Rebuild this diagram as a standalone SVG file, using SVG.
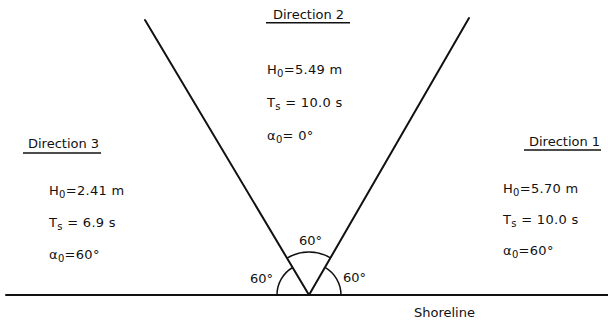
<svg xmlns="http://www.w3.org/2000/svg" width="608" height="322" viewBox="0 0 608 322">
<style>
  text { font-family: "DejaVu Sans", "Liberation Sans", sans-serif; font-size: 13px; fill: #111; }
  .sub { font-size: 10px; }
  .ln { stroke: #111; stroke-width: 2; fill: none; stroke-linecap: round; }
  .ul { stroke: #111; stroke-width: 1.6; fill: none; }
  .arc { stroke: #111; stroke-width: 1.5; fill: none; }
</style>
<rect width="608" height="322" fill="#fff"/>
<g id="connectors">
  <line class="ln" x1="6" y1="295" x2="608" y2="295" stroke-width="2.6"/>
  <line class="ln" x1="145" y1="20" x2="309" y2="295"/>
  <line class="ln" x1="469" y1="18" x2="309" y2="295"/>
  <path class="arc" d="M287,258.1 A43,43 0 0 1 330.5,257.8"/>
  <path class="arc" d="M277,295 A32,32 0 0 1 292.6,267.5"/>
  <path class="arc" d="M325,267.3 A32,32 0 0 1 341,295"/>
</g>
<g id="angle-labels">
  <text x="299" y="245">60°</text>
  <text x="250" y="283">60°</text>
  <text x="343" y="282">60°</text>
</g>
<g id="direction2">
  <text x="273" y="19">Direction 2</text>
  <line class="ul" x1="266" y1="22.7" x2="350" y2="22.7"/>
  <text x="267" y="74" letter-spacing="0.3">H<tspan class="sub" dy="3">0</tspan><tspan dy="-3">=5.49 m</tspan></text>
  <text x="267" y="107" letter-spacing="0.3">T<tspan class="sub" dy="3">s</tspan><tspan dy="-3"> = 10.0 s</tspan></text>
  <text x="267" y="140" letter-spacing="0.3">α<tspan class="sub" dy="3">0</tspan><tspan dy="-3">= 0°</tspan></text>
</g>
<g id="direction3">
  <text x="28" y="148">Direction 3</text>
  <line class="ul" x1="23" y1="153" x2="101" y2="153"/>
  <text x="49" y="195" letter-spacing="0.3">H<tspan class="sub" dy="3">0</tspan><tspan dy="-3">=2.41 m</tspan></text>
  <text x="49" y="227" letter-spacing="0.3">T<tspan class="sub" dy="3">s</tspan><tspan dy="-3"> = 6.9 s</tspan></text>
  <text x="49" y="259" letter-spacing="0.3">α<tspan class="sub" dy="3">0</tspan><tspan dy="-3">=60°</tspan></text>
</g>
<g id="direction1">
  <text x="529" y="145.7">Direction 1</text>
  <line class="ul" x1="524" y1="150" x2="601" y2="150"/>
  <text x="503" y="193" letter-spacing="0.3">H<tspan class="sub" dy="3">0</tspan><tspan dy="-3">=5.70 m</tspan></text>
  <text x="503" y="224" letter-spacing="0.3">T<tspan class="sub" dy="3">s</tspan><tspan dy="-3"> = 10.0 s</tspan></text>
  <text x="503" y="255" letter-spacing="0.3">α<tspan class="sub" dy="3">0</tspan><tspan dy="-3">=60°</tspan></text>
</g>
<g id="shoreline-label">
  <text x="414" y="316.7">Shoreline</text>
</g>
</svg>
